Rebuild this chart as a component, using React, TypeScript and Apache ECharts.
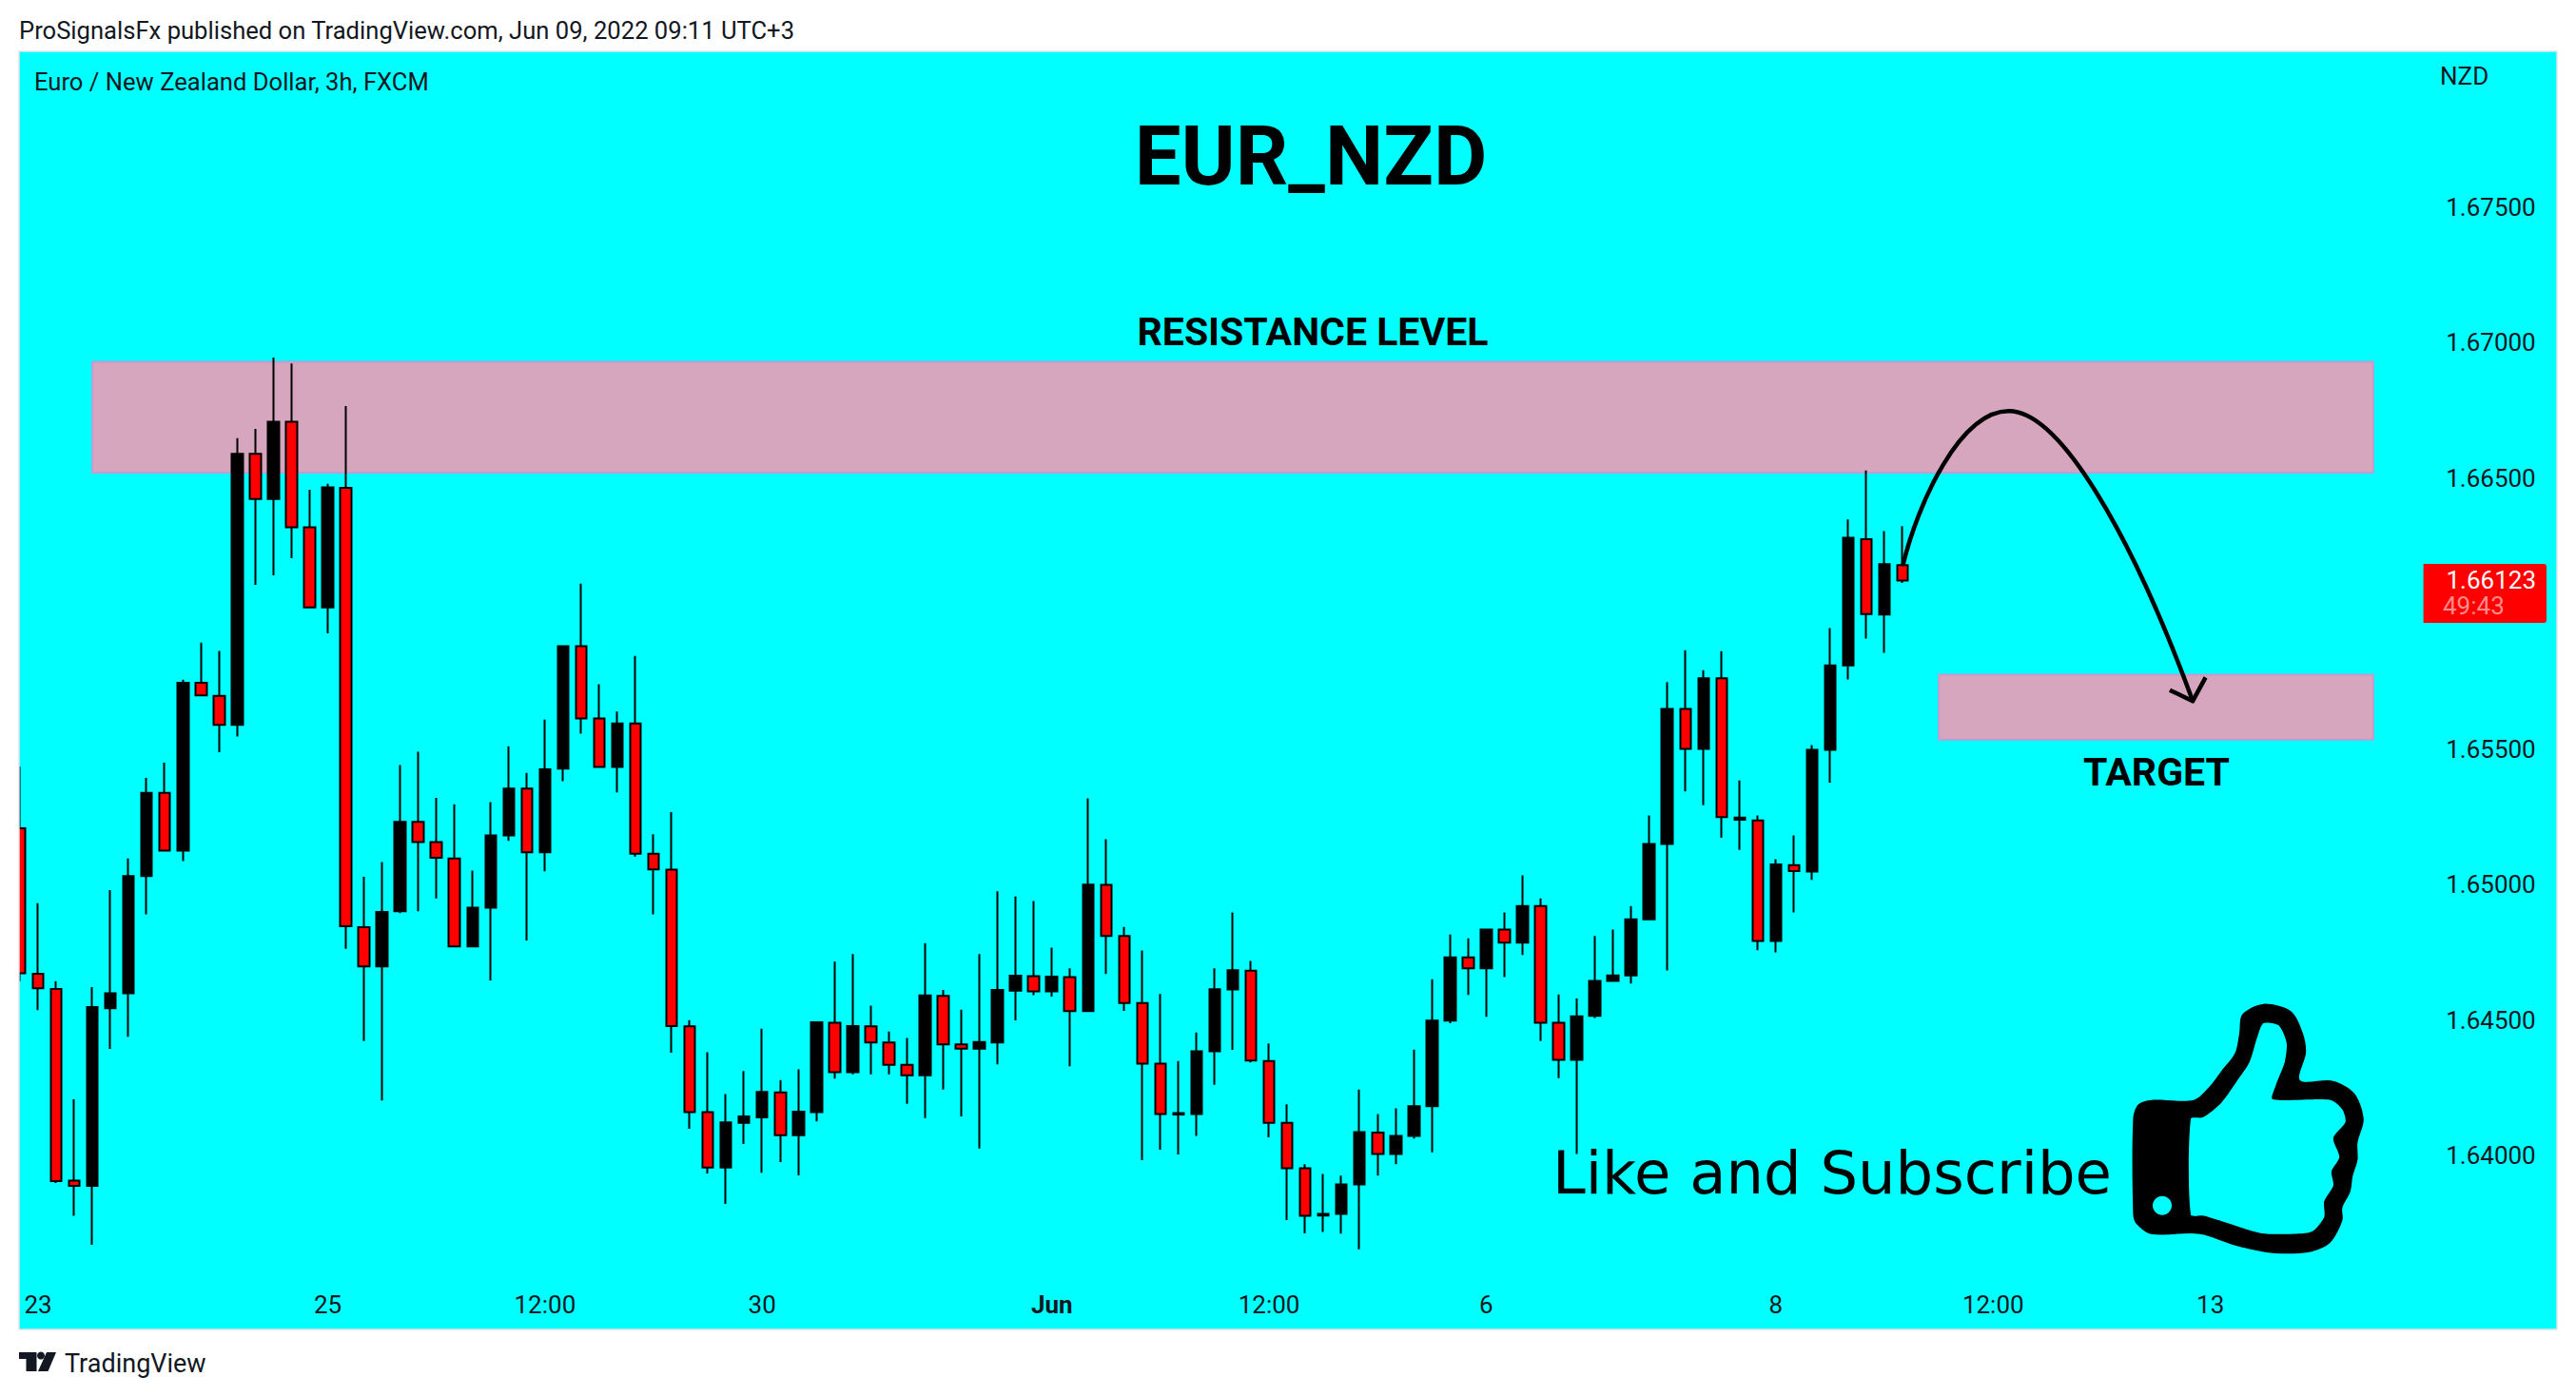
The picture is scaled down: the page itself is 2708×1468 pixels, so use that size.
import React, { useEffect, useRef } from "react";
import * as echarts from "echarts";

// [open, close, low, high]
const candles: number[][] = [
  [1.65209,1.64674,1.64645,1.65437],[1.64672,1.64618,1.64538,1.64932],[1.64616,1.63907,1.639,1.64645],[1.63909,1.63889,1.63779,1.64209],
  [1.63889,1.64549,1.63672,1.64623],[1.64545,1.646,1.64395,1.64981],[1.646,1.65032,1.64439,1.65097],[1.65032,1.65339,1.64891,1.65395],
  [1.65339,1.65126,1.65126,1.65451],[1.65126,1.65746,1.65088,1.65757],[1.65746,1.65699,1.65699,1.65894],[1.65697,1.6559,1.65489,1.65863],
  [1.6559,1.6659,1.65547,1.66648],[1.6659,1.66424,1.66107,1.66682],[1.66424,1.66709,1.66142,1.66946],[1.66709,1.66319,1.66205,1.66924],
  [1.66319,1.66024,1.66024,1.66458],[1.66024,1.66467,1.65928,1.6648],[1.66465,1.64847,1.64764,1.66767],[1.64844,1.64699,1.64424,1.6503],
  [1.64699,1.649,1.64204,1.65084],[1.64903,1.65232,1.64896,1.65442],[1.65232,1.65158,1.64903,1.65491],[1.65158,1.651,1.6495,1.65321],
  [1.65097,1.64773,1.64773,1.65297],[1.64773,1.64916,1.64773,1.65053],[1.64916,1.65182,1.64647,1.65305],[1.65182,1.65355,1.65162,1.65511],
  [1.65355,1.6512,1.64795,1.65413],[1.6512,1.65426,1.6505,1.6561],[1.65429,1.65881,1.65382,1.65881],[1.65881,1.65614,1.65558,1.66111],
  [1.65614,1.65435,1.65435,1.6574],[1.65435,1.65596,1.65341,1.65639],[1.65596,1.65115,1.65104,1.65845],[1.65115,1.65057,1.64891,1.65187],
  [1.65056,1.64479,1.64381,1.65268],[1.64478,1.64161,1.641,1.64501],[1.64161,1.63957,1.63935,1.64382],[1.63957,1.64124,1.63823,1.64228],
  [1.64122,1.64146,1.64044,1.64313],[1.64142,1.64236,1.63938,1.64469],[1.64234,1.64076,1.63977,1.6428],[1.64076,1.64163,1.63928,1.64319],
  [1.64161,1.64493,1.64127,1.64496],[1.64491,1.64309,1.64285,1.64717],[1.64309,1.64479,1.64301,1.64745],[1.64478,1.64418,1.64301,1.64554],
  [1.64418,1.64336,1.64301,1.64459],[1.64336,1.64297,1.64192,1.64435],[1.64297,1.64592,1.64139,1.64785],[1.6459,1.64411,1.64245,1.64612],
  [1.64411,1.64396,1.64146,1.64539],[1.64396,1.6442,1.64027,1.64745],[1.64418,1.64612,1.64338,1.64976],[1.6461,1.64665,1.645,1.64957],
  [1.64663,1.64607,1.64593,1.6494],[1.64607,1.64661,1.64588,1.64768],[1.6466,1.64534,1.64331,1.64692],[1.64534,1.65001,1.64534,1.65319],
  [1.65,1.64811,1.64671,1.65168],[1.64811,1.64564,1.64535,1.64845],[1.64564,1.6434,1.63984,1.64758],[1.6434,1.64154,1.64023,1.64597],
  [1.64153,1.64158,1.64005,1.6435],[1.64154,1.64386,1.64074,1.64455],[1.64386,1.64615,1.64262,1.64692],[1.64614,1.64685,1.64391,1.64898],
  [1.64683,1.64352,1.64345,1.64719],[1.6435,1.64122,1.64068,1.64415],[1.64122,1.63954,1.63763,1.6419],[1.63954,1.63779,1.63714,1.63969],
  [1.6378,1.63786,1.63719,1.63933],[1.63786,1.63895,1.63713,1.63927],[1.63895,1.64088,1.63655,1.64245],[1.64086,1.64007,1.63927,1.64154],
  [1.64007,1.64074,1.63969,1.64175],[1.64074,1.64183,1.64064,1.64392],[1.64183,1.64499,1.64013,1.64652],[1.64499,1.64732,1.64489,1.64817],
  [1.64732,1.64692,1.64594,1.64803],[1.64692,1.64835,1.64513,1.64835],[1.64835,1.64787,1.6466,1.64898],[1.64787,1.64922,1.64741,1.65035],
  [1.64922,1.64491,1.64424,1.6495],[1.64491,1.64354,1.64287,1.64596],[1.64354,1.64515,1.64007,1.64581],[1.64517,1.64646,1.64509,1.64811],
  [1.64646,1.64666,1.64642,1.64835],[1.64666,1.64873,1.64636,1.64922],[1.64873,1.65151,1.64873,1.65256],[1.65151,1.65649,1.64684,1.65748],
  [1.65649,1.65502,1.65345,1.65866],[1.65502,1.65762,1.65294,1.65792],[1.65762,1.6525,1.65174,1.65862],[1.6524,1.65248,1.65129,1.65385],
  [1.65238,1.64793,1.64759,1.65256],[1.64793,1.65075,1.64751,1.65095],[1.65073,1.65051,1.64898,1.65182],[1.65049,1.65498,1.65018,1.65516],
  [1.65498,1.6581,1.65377,1.65947],[1.6581,1.66281,1.65758,1.66348],[1.66275,1.65999,1.65909,1.66529],[1.65997,1.66183,1.65856,1.66305],
  [1.6618,1.66123,1.66114,1.66324],
];

const slotCount = 141;
const tickSlots = [1, 17, 29, 41, 57, 69, 81, 97, 109, 121];
const tickLabels = ["23", "25", "12:00", "30", "Jun", "12:00", "6", "8", "12:00", "13"];
const priceTicks = [1.64, 1.645, 1.65, 1.655, 1.665, 1.67, 1.675];
const priceMin = 1.633596;
const priceMax = 1.680754;

// zones: [first slot, top price, last slot, bottom price]
const resistanceZone = [4, 1.6693, 130, 1.66521];
const targetZone = [106, 1.65775, 130, 1.65536];

const categories = Array.from({ length: slotCount }, (_, i) => {
  const at = tickSlots.indexOf(i);
  return at >= 0 ? tickLabels[at] : "";
});

const INK = "#131722";
const FONT = "Roboto";

const curvePath = "M2000.7 593.3 C2016 530 2060 432.3 2111.8 432.3 C2165 432.3 2240 560 2305 736.7";
const arrowHead = [[2281, 725.7], [2305, 737.3], [2318.6, 712.3]];
echarts.graphic.registerShape("arcCurve", echarts.graphic.extendPath(curvePath as any, {}) as any);

const thumbZoom = (pts: number[][]) => pts.map(([x, y]) => [1560 + x / 1.568, 1020 + y / 3]);
const thumbOuter = thumbZoom([
  [1070, 470], [1078, 425], [1100, 410], [1170, 410], [1195, 370], [1215, 320], [1238, 262], [1245, 200], [1250, 140],
  [1285, 107], [1330, 130], [1350, 200], [1355, 260], [1345, 348], [1400, 350], [1435, 390], [1450, 470], [1440, 545],
  [1440, 600], [1432, 650], [1428, 700], [1415, 750], [1415, 790], [1395, 860], [1360, 890], [1300, 893], [1240, 870],
  [1180, 833], [1100, 833], [1075, 800], [1070, 770],
]);
const thumbInner = thumbZoom([
  [1165, 470], [1185, 465], [1215, 420], [1245, 340], [1262, 290], [1275, 210], [1285, 168], [1310, 175], [1323, 230],
  [1320, 290], [1305, 365], [1300, 408], [1395, 410], [1415, 440], [1420, 480], [1400, 530], [1410, 590], [1397, 635],
  [1400, 680], [1385, 730], [1385, 780], [1365, 825], [1330, 833], [1280, 830], [1220, 795], [1185, 775], [1165, 772],
]);

function label(text: string, x: number, y: number, size: number, opts: any = {}) {
  const align = opts.align ?? "left";
  return {
    type: "text",
    z: 120,
    silent: true,
    style: {
      text, x, y,
      fontSize: size,
      fontFamily: opts.family ?? FONT,
      fontWeight: opts.weight ?? "normal",
      fill: opts.fill ?? INK,
      textAlign: align, align,
      textVerticalAlign: "middle", verticalAlign: "middle",
    },
  };
}

export default function App() {
  const ref = useRef<HTMLDivElement>(null);
  useEffect(() => {
    document.body.style.margin = "0";
    const chart = echarts.init(ref.current!, null, { renderer: "svg" });
    chart.setOption({
      animation: false,
      backgroundColor: "#ffffff",
      grid: {
        left: 11.485, top: 54, width: 2683.23, height: 1344,
        show: true, backgroundColor: "#00ffff", borderWidth: 0, containLabel: false,
      },
      xAxis: {
        type: "category",
        data: categories,
        boundaryGap: true,
        axisLine: { show: false },
        axisTick: { show: false },
        splitLine: { show: false },
        axisLabel: {
          inside: true,
          margin: 13,
          interval: (i: number) => tickSlots.includes(i),
          hideOverlap: false,
          fontSize: 26,
          fontFamily: FONT,
          color: INK,
          formatter: (v: string) => (v === "Jun" ? "{m|Jun}" : v),
          rich: { m: { fontSize: 26, fontFamily: FONT, fontWeight: "bold", color: INK } },
        },
      },
      yAxis: {
        type: "value",
        position: "right",
        min: priceMin,
        max: priceMax,
        axisLine: { show: false },
        axisTick: { show: false },
        splitLine: { show: false },
        axisLabel: {
          inside: true,
          margin: 29,
          customValues: priceTicks,
          fontSize: 26,
          fontFamily: FONT,
          color: INK,
          formatter: (v: number) => v.toFixed(5),
        },
      },
      series: [
        {
          type: "candlestick",
          data: candles,
          barWidth: 12,
          clip: false,
          itemStyle: {
            color: "#000000",
            color0: "#ff0000",
            borderColor: "#000000",
            borderColor0: "#000000",
            borderColorDoji: "#000000",
            borderWidth: 2,
          },
          markArea: {
            silent: true,
            itemStyle: { color: "#d6a5be", borderColor: "#c49ad0", borderWidth: 2 },
            data: [resistanceZone, targetZone].map((z) => [
              { xAxis: z[0], yAxis: z[1] },
              { xAxis: z[2], yAxis: z[3] },
            ]),
          },
        },
      ],
      graphic: {
        elements: [
          { type: "rect", z: 100, silent: true, shape: { x: 0, y: 0, width: 20, height: 1468 }, style: { fill: "#ffffff" } },
          { type: "rect", z: 100, silent: true, shape: { x: 2688, y: 0, width: 20, height: 1468 }, style: { fill: "#ffffff" } },
          { type: "rect", z: 101, silent: true, shape: { x: 20, y: 54, width: 2668, height: 1344 }, style: { fill: "none", stroke: "#e0e3eb", lineWidth: 1.5 } },
          label("ProSignalsFx published on TradingView.com, Jun 09, 2022 09:11 UTC+3", 20, 32, 25.6),
          label("Euro / New Zealand Dollar, 3h, FXCM", 36, 86, 25.6),
          label("NZD", 2565, 80, 26),
          label("EUR_NZD", 1378, 164, 86.8, { align: "center", weight: "bold", fill: "#000000" }),
          label("RESISTANCE LEVEL", 1380, 349, 41, { align: "center", weight: "bold", fill: "#000000" }),
          label("TARGET", 2267, 812, 41, { align: "center", weight: "bold", fill: "#000000" }),
          label("Like and Subscribe", 1632, 1233, 62.4, { family: "DejaVu Sans", fill: "#000000" }),
          { type: "arcCurve", z: 110, silent: true, style: { fill: "none", stroke: "#000000", lineWidth: 4.5, lineCap: "round" } },
          { type: "polyline", z: 110, silent: true, shape: { points: arrowHead }, style: { fill: "none", stroke: "#000000", lineWidth: 4.5, lineJoin: "round" } },
          { type: "polygon", z: 110, silent: true, shape: { points: thumbOuter, smooth: 0.3 }, style: { fill: "#000000" } },
          { type: "polygon", z: 111, silent: true, shape: { points: thumbInner, smooth: 0.25 }, style: { fill: "#00ffff" } },
          { type: "ellipse", z: 111, silent: true, shape: { cx: 1560 + 1118 / 1.568, cy: 1020 + 743 / 3, rx: 10, ry: 10 }, style: { fill: "#00ffff" } },
          { type: "rect", z: 110, silent: true, shape: { x: 2547.6, y: 593, width: 129.4, height: 62, r: [0, 3, 3, 0] }, style: { fill: "#ff0000" } },
          label("1.66123", 2666, 610, 26, { align: "right", fill: "#ffffff" }),
          label("49:43", 2568, 637, 26, { fill: "#ff8c8c" }),
          { type: "polygon", z: 110, silent: true, shape: { points: [[20, 1422], [38.5, 1422], [38.5, 1442], [27.5, 1442], [27.5, 1429], [20, 1429]] }, style: { fill: INK } },
          { type: "circle", z: 110, silent: true, shape: { cx: 43, cy: 1425.5, r: 4 }, style: { fill: INK } },
          { type: "polygon", z: 110, silent: true, shape: { points: [[49, 1422], [59, 1422], [50.5, 1442], [40, 1442]] }, style: { fill: INK } },
          label("TradingView", 68, 1434, 27),
        ],
      },
    });
    return () => chart.dispose();
  }, []);
  return <div ref={ref} style={{ position: "absolute", left: 0, top: 0, width: 2708, height: 1468 }} />;
}
